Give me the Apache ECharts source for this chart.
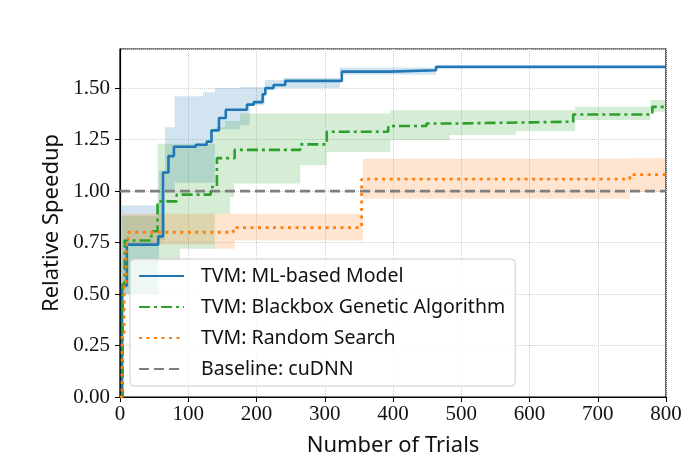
<!DOCTYPE html>
<html>
<head>
<meta charset="utf-8">
<script src="https://cdn.jsdelivr.net/npm/echarts/dist/echarts.min.js"></script>
<style>
html, body { margin: 0; padding: 0; background: #fff; }
#chart { width: 696px; height: 457px; }
</style>
</head>
<body>
<div id="chart"></div>
<script>
// step points: [trial, speedup], value holds until the next point
var mlModel = [[0, 0], [3, 0.54], [10, 0.74], [56, 0.78], [63, 1.09], [71, 1.17], [79, 1.215],
    [111, 1.225], [127, 1.24], [134, 1.295], [145, 1.355], [155, 1.395], [186, 1.42], [196, 1.432],
    [209, 1.47], [213, 1.50], [225, 1.515], [242, 1.535], [325, 1.58], [395, 1.587], [463, 1.603], [800, 1.603]];
var geneticAlgo = [[0, 0], [4, 0.55], [7, 0.76], [46, 0.805], [55, 0.95], [83, 0.983], [133, 1.02],
    [142, 1.16], [168, 1.20], [264, 1.227], [303, 1.288], [393, 1.316], [449, 1.328], [486, 1.337],
    [664, 1.372], [780, 1.409], [800, 1.409]];
var randomSearch = [[0, 0], [3, 0.3], [6, 0.55], [9, 0.74], [12, 0.80], [166, 0.823], [354, 1.058],
    [747, 1.08], [800, 1.08]];
var baselineValue = 1.0;
var trialRange = [0, 800];

// shaded spread: [trial, low, high]
var mlBand = [[2, 0.50, 0.93], [57, 0.76, 1.10], [66, 1.00, 1.31], [80, 1.04, 1.46], [122, 1.04, 1.48],
    [139, 1.30, 1.50], [176, 1.32, 1.506], [190, 1.417, 1.506], [212, 1.50, 1.539], [239, 1.50, 1.55],
    [322, 1.565, 1.60], [463, 1.598, 1.608], [800, 1.598, 1.608]];
var gaBand = [[2, 0.50, 0.88], [55, 0.66, 1.23], [88, 0.72, 1.23], [139, 0.89, 1.31], [154, 0.89, 1.34],
    [161, 0.97, 1.34], [167, 1.037, 1.34], [176, 1.037, 1.377], [264, 1.126, 1.377], [303, 1.19, 1.377],
    [396, 1.248, 1.393], [483, 1.272, 1.393], [580, 1.29, 1.393], [667, 1.345, 1.409], [777, 1.385, 1.442],
    [800, 1.385, 1.442]];
var rsBand = [[4, 0.40, 0.89], [7, 0.74, 0.89], [139, 0.72, 0.89], [168, 0.76, 0.89], [356, 0.963, 1.157],
    [747, 0.995, 1.159], [800, 0.995, 1.159]];

var blue = '#1f77b4', green = '#2ca02c', orange = '#ff7f0e', gray = '#7f7f7f';

function bandSeries(name, band, color) {
    return {
        name: name,
        type: 'custom',
        data: band,
        z: 1,
        silent: true,
        renderItem: function (params, api) {
            if (params.dataIndexInside !== 0) return null;
            var n = params.dataInsideLength;
            var top = [], bottom = [];
            for (var i = 0; i < n - 1; i++) {
                var x0 = api.value(0, i), x1 = api.value(0, i + 1);
                var lo = api.value(1, i), hi = api.value(2, i);
                top.push(api.coord([x0, hi]), api.coord([x1, hi]));
                bottom.push(api.coord([x0, lo]), api.coord([x1, lo]));
            }
            var pts = top.concat(bottom.reverse());
            return {
                type: 'polygon',
                shape: { points: pts },
                style: { fill: color, opacity: 0.2 }
            };
        }
    };
}

function stepSeries(name, data, color, type, width) {
    return {
        name: name,
        type: 'line',
        step: 'end',
        data: data,
        symbol: 'none',
        showSymbol: false,
        z: 3,
        lineStyle: { color: color, width: width, type: type },
        itemStyle: { color: color }
    };
}

var myChart = echarts.init(document.getElementById('chart'));
var option = {
    animation: false,
    backgroundColor: '#fff',
    grid: {
        left: 120, right: 30, top: 49, bottom: 60, outerBoundsMode: 'none', containLabel: false,
        show: true, borderColor: '#000', borderWidth: 1.2, backgroundColor: 'transparent'
    },
    legend: {
        data: ['TVM: ML-based Model', 'TVM: Blackbox Genetic Algorithm', 'TVM: Random Search', 'Baseline: cuDNN'],
        orient: 'vertical',
        left: 130,
        top: 259,
        itemWidth: 45,
        itemHeight: 12,
        itemGap: 11,
        padding: [7, 10, 7, 8],
        backgroundColor: 'rgba(255,255,255,0.8)',
        borderColor: '#cccccc',
        borderWidth: 1,
        borderRadius: 4,
        itemStyle: { opacity: 0 },
        textStyle: { fontFamily: 'Noto Sans', fontSize: 19.5, lineHeight: 19, color: '#111', padding: [0, 0, 0, 12] }
    },
    xAxis: {
        type: 'value',
        min: trialRange[0],
        max: trialRange[1],
        interval: 100,
        name: 'Number of Trials',
        nameLocation: 'middle',
        nameGap: 38,
        nameTextStyle: { fontFamily: 'Noto Sans', fontSize: 22, color: '#111' },
        axisLine: { lineStyle: { color: '#000', width: 1.2 } },
        axisTick: { show: true, length: 5, lineStyle: { color: '#000' } },
        axisLabel: { fontFamily: 'Liberation Serif', fontSize: 21, color: '#111', margin: 7 },
        splitLine: { show: true, lineStyle: { color: '#cfcfcf', type: 'dotted', width: 1 } }
    },
    yAxis: {
        type: 'value',
        min: 0,
        max: 1.69,
        interval: 0.25,
        name: 'Relative Speedup',
        nameLocation: 'middle',
        nameGap: 56,
        nameTextStyle: { fontFamily: 'Noto Sans', fontSize: 22, color: '#111' },
        axisLine: { show: true, lineStyle: { color: '#000', width: 1.2 } },
        axisTick: { show: true, length: 5, lineStyle: { color: '#000' } },
        axisLabel: {
            fontFamily: 'Liberation Serif', fontSize: 21, color: '#111', margin: 10, showMaxLabel: false,
            formatter: function (v) { return v.toFixed(2); }
        },
        splitLine: { show: true, lineStyle: { color: '#cfcfcf', type: 'dotted', width: 1 } }
    },
    series: [
        bandSeries('mlBand', mlBand, blue),
        bandSeries('gaBand', gaBand, green),
        bandSeries('rsBand', rsBand, orange),
        stepSeries('TVM: ML-based Model', mlModel, blue, 'solid', 2.6),
        stepSeries('TVM: Blackbox Genetic Algorithm', geneticAlgo, green, [11, 4, 3, 4], 2.6),
        stepSeries('TVM: Random Search', randomSearch, orange, [3, 4.5], 2.8),
        {
            name: 'Baseline: cuDNN',
            type: 'line',
            data: [[trialRange[0], baselineValue], [trialRange[1], baselineValue]],
            symbol: 'none',
            showSymbol: false,
            z: 2,
            lineStyle: { color: gray, width: 2.6, type: [10, 5] },
            itemStyle: { color: gray }
        }
    ]
};
myChart.setOption(option);
</script>
</body>
</html>
